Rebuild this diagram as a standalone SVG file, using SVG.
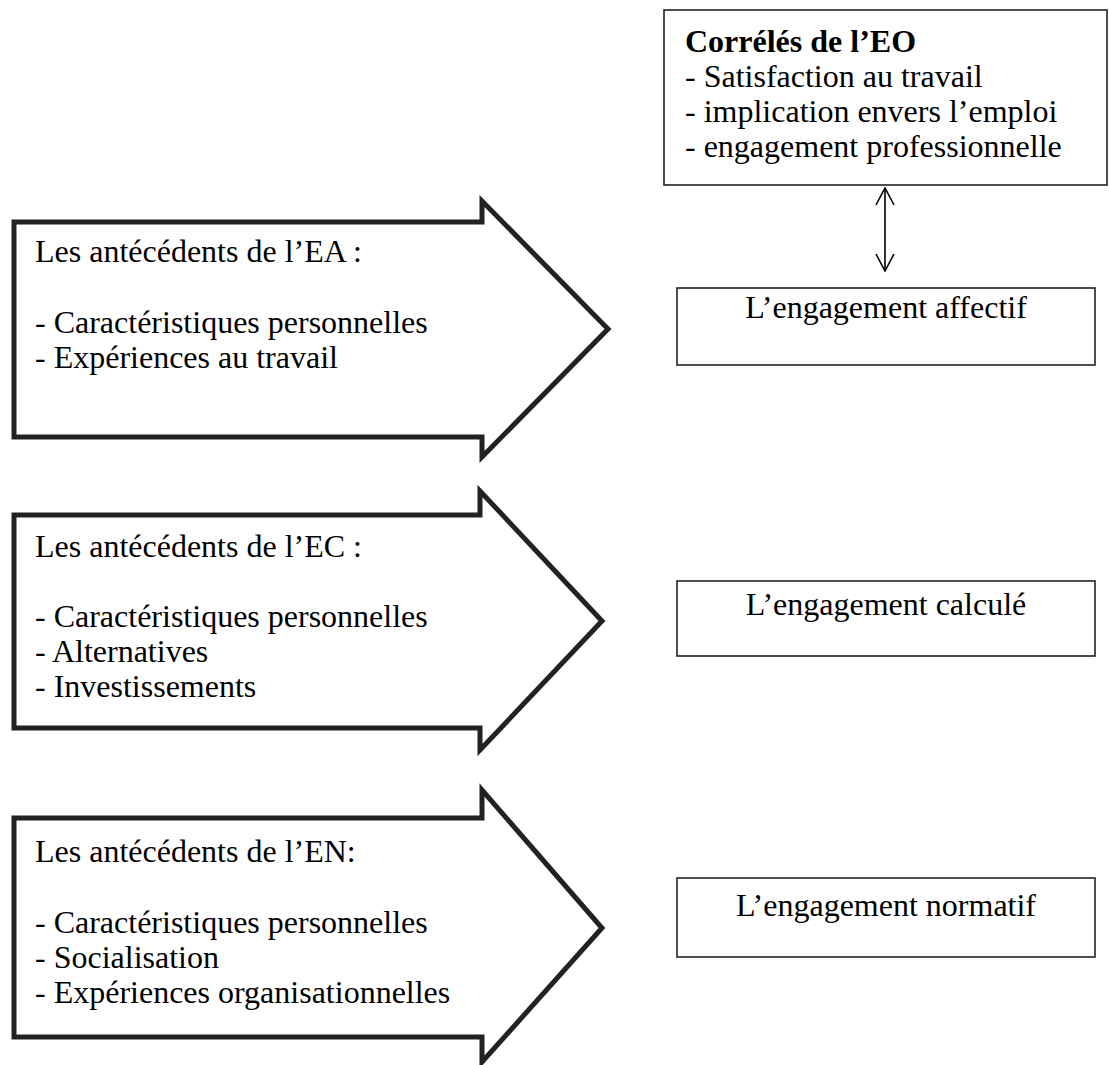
<svg xmlns="http://www.w3.org/2000/svg" width="1109" height="1065" viewBox="0 0 1109 1065">
<style>
text{font-family:"Liberation Serif",Tinos,"Times New Roman","DejaVu Serif",serif;font-size:32px;fill:#000}
.b{font-weight:bold}
.arrow{fill:#fff;stroke:#222;stroke-width:5;stroke-linejoin:miter}
.box{fill:#fff;stroke:#222;stroke-width:1.6}
.conn{stroke:#000;stroke-width:1.6;fill:none}
</style>
<defs>
<marker id="open" viewBox="0 0 20 20" refX="19" refY="10" markerWidth="20" markerHeight="20" markerUnits="userSpaceOnUse" orient="auto-start-reverse">
<path d="M2,1 L19,10 L2,19" fill="none" stroke="#000" stroke-width="1.6"/>
</marker>
</defs>
<rect width="1109" height="1065" fill="#fff"/>
<g id="correles">
<rect class="box" x="664" y="10" width="443" height="175"/>
<text class="b" x="685" y="52">Corrélés de l’EO</text>
<text x="685" y="87">- Satisfaction au travail</text>
<text x="685" y="122">- implication envers l’emploi</text>
<text x="685" y="157">- engagement professionnelle</text>
</g>
<g id="ant-ea">
<path class="arrow" d="M14,222 L482,222 L482,201 L608,329 L482,457 L482,437 L14,437 Z"/>
<text x="35" y="262">Les antécédents de l’EA :</text>
<text x="35" y="333">- Caractéristiques personnelles</text>
<text x="35" y="368">- Expériences au travail</text>
</g>
<g id="ant-ec">
<path class="arrow" d="M14,515 L480,515 L480,491 L602,621 L480,750 L480,728 L14,728 Z"/>
<text x="35" y="557">Les antécédents de l’EC :</text>
<text x="35" y="627">- Caractéristiques personnelles</text>
<text x="35" y="662">- Alternatives</text>
<text x="35" y="697">- Investissements</text>
</g>
<g id="ant-en">
<path class="arrow" d="M14,818 L482,818 L482,790 L602,928 L482,1062 L482,1037 L14,1037 Z"/>
<text x="35" y="862">Les antécédents de l’EN:</text>
<text x="35" y="933">- Caractéristiques personnelles</text>
<text x="35" y="968">- Socialisation</text>
<text x="35" y="1003">- Expériences organisationnelles</text>
</g>
<g id="ea">
<rect class="box" x="677" y="288" width="418" height="77"/>
<text x="886" y="318" text-anchor="middle">L’engagement affectif</text>
</g>
<g id="ec">
<rect class="box" x="677" y="581" width="418" height="75"/>
<text x="886" y="615" text-anchor="middle">L’engagement calculé</text>
</g>
<g id="en">
<rect class="box" x="677" y="878" width="418" height="79"/>
<text x="886" y="916" text-anchor="middle">L’engagement normatif</text>
</g>
<g id="connectors">
<line class="conn" x1="885" y1="188" x2="885" y2="271" marker-start="url(#open)" marker-end="url(#open)"/>
</g>
</svg>
